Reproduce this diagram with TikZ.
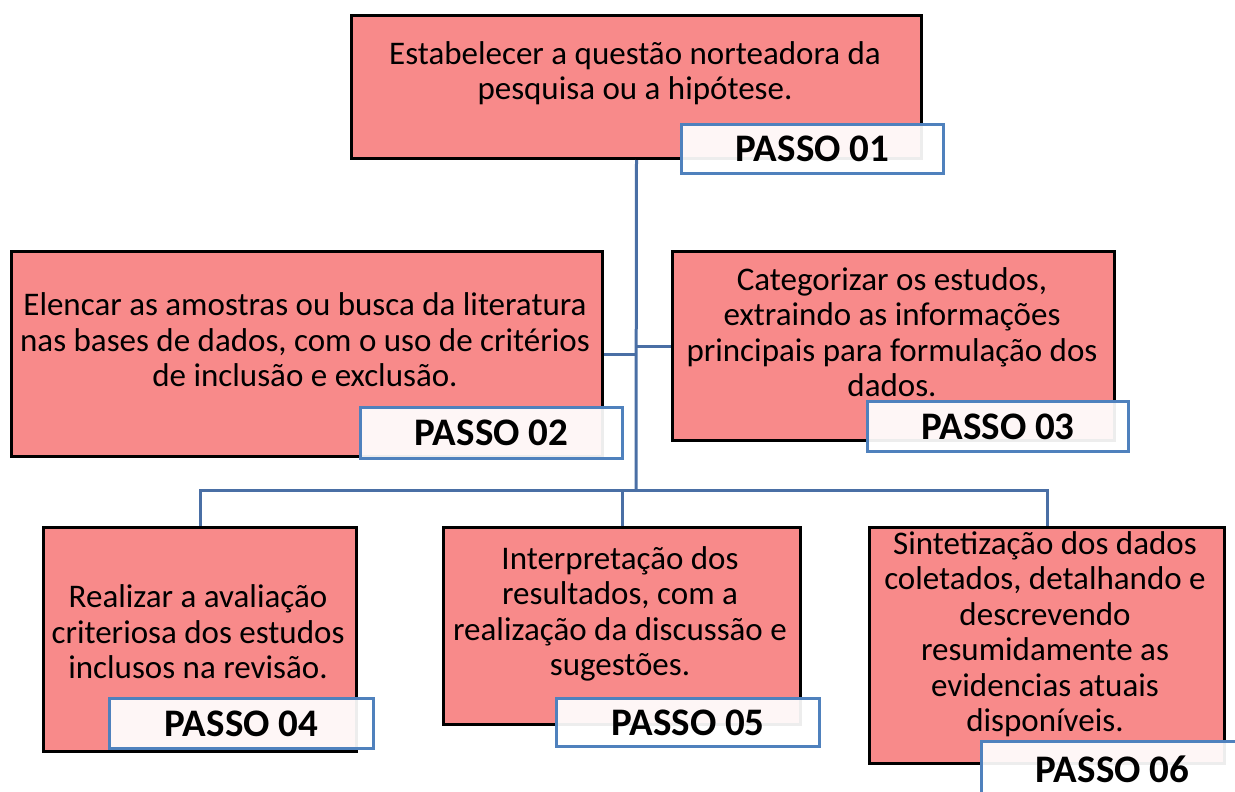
\documentclass[tikz,border=0pt]{standalone}
\usepackage{fontspec}
\setmainfont{Carlito}
\definecolor{boxfill}{HTML}{F88A8A}
\definecolor{linkblue}{HTML}{4A6FA5}
\definecolor{tagblue}{HTML}{4F81BD}
\begin{document}
\begin{tikzpicture}[x=1pt,y=-1pt,
  stepbox/.style={draw=black, line width=3pt, fill=boxfill, anchor=north west, inner sep=0pt},
  tag/.style={draw=tagblue, line width=3pt, fill=white, fill opacity=0.93, text opacity=1, anchor=north west, inner sep=0pt, font=\bfseries\fontsize{39}{42}\selectfont},
  body/.style={align=center, font=\fontsize{33}{35.5}\selectfont, inner sep=0pt},
  link/.style={draw=linkblue, line width=3pt}]
\useasboundingbox (0,0) rectangle (1235,792);
\clip (0,0) rectangle (1235,792);
% boxes
\node[stepbox, minimum width=570pt, minimum height=143pt] (b1) at (350,14) {};
\node[stepbox, minimum width=591pt, minimum height=205pt] (b2) at (10,250) {};
\node[stepbox, minimum width=442pt, minimum height=189pt] (b3) at (671,250) {};
\node[stepbox, minimum width=313pt, minimum height=224pt] (b4) at (42,526) {};
\node[stepbox, minimum width=357pt, minimum height=197pt] (b5) at (442,526) {};
\node[stepbox, minimum width=355pt, minimum height=236pt] (b6) at (868,526) {};
% connectors
\coordinate (bus) at (636,490);
\draw[link] (b1.south) -- (bus);
\draw[link] (b2.east) -- (b2.east -| bus);
\draw[link] (b3.west) -- (b3.west -| bus);
\draw[link] (b4.north) |- (bus) -| (b6.north);
\draw[link] (b5.north) -- (b5.north |- bus);
% texts
\node[body] (t1) at (635,73) {Estabelecer a questão norteadora da\\pesquisa ou a hipótese.};
\node[body] (t2) at (305,340) {Elencar as amostras ou busca da literatura\\nas bases de dados, com o uso de critérios\\de inclusão e exclusão.};
\node[body] (t3) at (892,332) {Categorizar os estudos,\\extraindo as informações\\principais para formulação dos\\dados.};
\node[body] (t4) at (198,632) {Realizar a avaliação\\criteriosa dos estudos\\inclusos na revisão.};
\node[body] (t5) at (620,614) {Interpretação dos\\resultados, com a\\realização da discussão e\\sugestões.};
\node[body] (t6) at (1045,634) {Sintetização dos dados\\coletados, detalhando e\\descrevendo\\resumidamente as\\evidencias atuais\\disponíveis.};
% tags
\node[tag, minimum width=262pt, minimum height=49pt] (p1) at (680,123) {PASSO 01};
\node[tag, minimum width=262pt, minimum height=51pt] (p2) at (359,406) {PASSO 02};
\node[tag, minimum width=261pt, minimum height=50pt] (p3) at (866,400) {PASSO 03};
\node[tag, minimum width=264pt, minimum height=50pt] (p4) at (108,697) {PASSO 04};
\node[tag, minimum width=263pt, minimum height=48pt] (p5) at (555,697) {PASSO 05};
\node[tag, minimum width=280pt, minimum height=56pt] (p6) at (980,740) {PASSO 06\hspace*{18pt}};
\end{tikzpicture}
\end{document}
